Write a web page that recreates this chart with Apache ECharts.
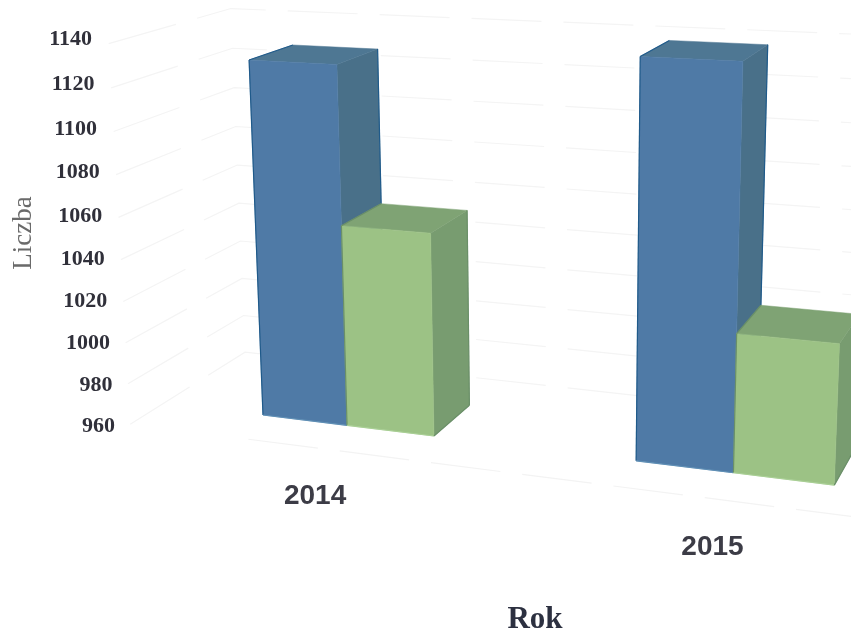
<!DOCTYPE html>
<html>
<head>
<meta charset="utf-8">
<style>
html,body{margin:0;padding:0;background:#fff;}
#chart{width:851px;height:630px;filter:blur(0.55px);}
</style>
<script src="https://cdn.jsdelivr.net/npm/echarts@6/dist/echarts.min.js"></script>
</head>
<body>
<div id="chart"></div>
<script>
const categories = ['2014', '2015'];
const blueValues = [1130, 1140];
const greenValues = [1056, 1023];
const tickValues = [1140, 1120, 1100, 1080, 1060, 1040, 1020, 1000, 980, 960];

const chart = echarts.init(document.getElementById('chart'), null, {renderer: 'canvas'});

// Three vanishing points of the 3-D scene, expressed in screen pixels
const VPX = [-4700, -194], VPV = [560, 8000], VPZ = [1270, -290], ORIGIN = [263, 415];
const KX = -0.01665, KV = -0.04734, KZ = 0.0428;
const PITCH = 4.2;                 // category spacing, in bar widths
const WALL_X = -1.22, WALL_Xr = 9, FRONT_Z = -0.71, BACK_Z = 1.88;
const GRID = {left: 115, right: -104, top: 40, bottom: 204, outerBoundsMode: 'none'};
const W = 851, H = 630;
const gridL = GRID.left, gridR = W - GRID.right, gridT = GRID.top, gridB = H - GRID.bottom;

function project(X, t, Z) {
  const a = KX * X, b = KV * t, c = KZ * Z;
  const w = 1 + a + b + c;
  return [
    (ORIGIN[0] + a * VPX[0] + b * VPV[0] + c * VPZ[0]) / w,
    (ORIGIN[1] + a * VPX[1] + b * VPV[1] + c * VPZ[1]) / w
  ];
}
// value & category -> scene coordinates, through the axes' own scales
function sceneOf(api, cat, val) {
  const p = api.coord([cat, val]);
  return {X: PITCH * (p[0] - gridL) / (gridR - gridL), t: (gridB - p[1]) / (gridB - gridT)};
}

function barRenderer(slot, colors) {
  return function (params, api) {
    const s = sceneOf(api, api.value(0), api.value(1));
    const x0 = s.X + slot, x1 = x0 + 1, t = s.t;
    const poly = (pts, fill) => ({type: 'polygon', shape: {points: pts}, style: {fill: fill, stroke: fill, lineWidth: 0.5}});
    const edge = (a, b, c) => ({type: 'line', shape: {x1: a[0], y1: a[1], x2: b[0], y2: b[1]}, style: {stroke: c, lineWidth: 1.2}});
    const fl0 = project(x0, 0, 0), fr0 = project(x1, 0, 0), ft0 = project(x0, t, 0), ft1 = project(x1, t, 0);
    const bt0 = project(x0, t, 1), bt1 = project(x1, t, 1), bb1 = project(x1, 0, 1);
    return {type: 'group', children: [
      poly([fr0, ft1, bt1, bb1], colors.side),
      poly([ft0, ft1, bt1, bt0], colors.top),
      poly([fl0, fr0, ft1, ft0], colors.front),
      edge(bt1, bb1, colors.edge),
      edge(ft0, bt0, colors.edge),
      edge(ft0, fl0, colors.edge),
      edge(fl0, fr0, colors.base),
      edge(fr0, bb1, colors.edge)
    ]};
  };
}

const option = {
  backgroundColor: '#ffffff',
  animation: false,
  grid: GRID,
  xAxis: {
    type: 'category', data: categories, boundaryGap: false,
    axisLine: {show: false}, axisTick: {show: false}, axisLabel: {show: false}, splitLine: {show: false},
    name: 'Rok', nameLocation: 'middle', nameGap: 178,
    nameTextStyle: {fontFamily: 'Liberation Serif', fontWeight: 'bold', fontSize: 31, color: '#2c3040'}
  },
  yAxis: {
    type: 'value', min: 960, max: 1140, interval: 20,
    axisLine: {show: false}, axisTick: {show: false}, axisLabel: {show: false}, splitLine: {show: false},
    name: 'Liczba', nameLocation: 'middle', nameGap: 78, nameRotate: 90,
    nameTextStyle: {fontFamily: 'Liberation Serif', fontSize: 27, color: '#6a6a6a'}
  },
  series: [
    { // faint wall gridlines and floor edge
      type: 'custom', z: 1, silent: true,
      data: tickValues.map(v => [0, v]),
      renderItem: function (params, api) {
        const s = sceneOf(api, 0, api.value(1));
        const a = project(WALL_X, s.t, FRONT_Z), b = project(WALL_X, s.t, BACK_Z), c = project(WALL_Xr, s.t, BACK_Z);
        const kids = [
          {type: 'polyline', shape: {points: [a, b, c]}, style: {fill: 'none', stroke: '#f4f4f4', lineWidth: 1.2, lineDash: [70, 22]}}
        ];
        if (s.t === 0) {
          const f0 = project(0.2, 0, FRONT_Z), f1 = project(WALL_Xr, 0, FRONT_Z);
          kids.push({type: 'line', shape: {x1: f0[0], y1: f0[1], x2: f1[0], y2: f1[1]},
            style: {stroke: '#f3f3f3', lineWidth: 1.2, lineDash: [70, 22]}});
        }
        return {type: 'group', children: kids};
      }
    },
    {
      name: 'Seria 1', type: 'custom', z: 2,
      data: blueValues.map((v, i) => [i, v]),
      renderItem: barRenderer(0, {front: '#4f7aa6', top: '#4e7793', side: '#497089', edge: '#1f5a8a', base: '#5f8fb5'})
    },
    {
      name: 'Seria 2', type: 'custom', z: 3,
      data: greenValues.map((v, i) => [i, v]),
      renderItem: barRenderer(1, {front: '#9cc285', top: '#7fa374', side: '#789c70', edge: '#6a8f68', base: '#a9cf95'})
    },
    { // value tick labels, slanted with the perspective of the wall
      type: 'custom', z: 4, silent: true,
      data: tickValues.map(v => [0, v]),
      renderItem: function (params, api) {
        const v = api.value(1), t = sceneOf(api, 0, v).t, b = KV * t;
        return {type: 'text', style: {
          text: String(v),
          x: 115 - 23 * t,
          y: (415.5 + VPV[1] * b) / (0.9754 + b),
          align: 'right', verticalAlign: 'middle',
          font: 'bold 22px "Liberation Serif"', fill: '#30303a'
        }};
      }
    },
    { // category labels under the floor
      type: 'custom', z: 4, silent: true,
      data: categories.map((c, i) => [i, 960]),
      renderItem: function (params, api) {
        const s = sceneOf(api, api.value(0), api.value(1));
        const p = project(s.X + 1, 0, FRONT_Z);
        return {type: 'text', style: {
          text: categories[params.dataIndex],
          x: p[0] - 2.5, y: p[1] + 48,
          align: 'center', verticalAlign: 'middle',
          font: 'bold 28px "Liberation Sans"', fill: '#3c3c46'
        }};
      }
    }
  ]
};
chart.setOption(option);
</script>
</body>
</html>
